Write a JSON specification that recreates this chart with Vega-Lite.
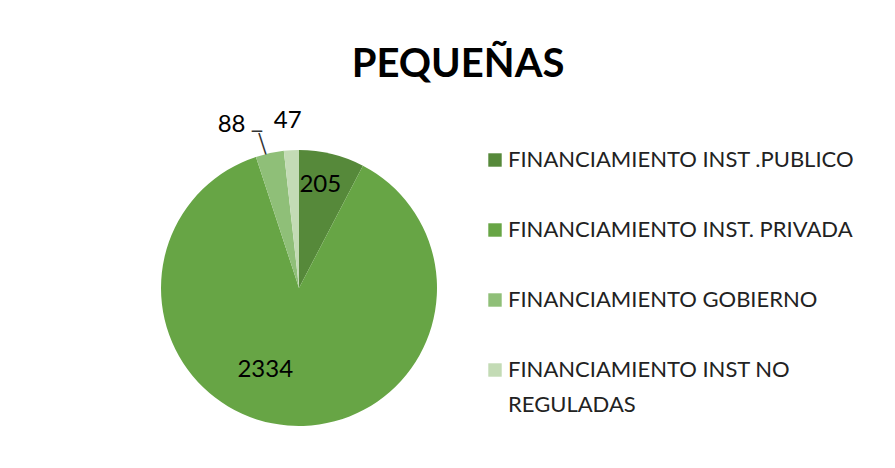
{
  "$schema": "https://vega.github.io/schema/vega-lite/v6.json",
  "autosize": {"type": "none"},
  "width": 276,
  "height": 276,
  "padding": {"left": 161, "top": 150, "right": 458, "bottom": 42},
  "background": "white",
  "title": {"text": "PEQUEÑAS", "font": "Lato", "fontSize": 40, "fontWeight": "bold", "color": "#000000", "anchor": "middle", "dx": 159, "offset": 24},
  "data": {"values": [
    {"categoria": "FINANCIAMIENTO INST .PUBLICO", "valor": 205, "orden": 1},
    {"categoria": "FINANCIAMIENTO INST. PRIVADA", "valor": 2334, "orden": 2},
    {"categoria": "FINANCIAMIENTO GOBIERNO", "valor": 88, "orden": 3},
    {"categoria": "FINANCIAMIENTO INST NO REGULADAS", "valor": 47, "orden": 4}
  ]},
  "encoding": {
    "theta": {"field": "valor", "type": "quantitative", "stack": true},
    "order": {"field": "orden", "type": "quantitative"}
  },
  "layer": [
    {
      "mark": {"type": "arc"},
      "encoding": {
        "color": {
          "field": "categoria", "type": "nominal",
          "scale": {
            "domain": ["FINANCIAMIENTO INST .PUBLICO", "FINANCIAMIENTO INST. PRIVADA", "FINANCIAMIENTO GOBIERNO", "FINANCIAMIENTO INST NO REGULADAS"],
            "range": ["#56893a", "#67a545", "#8fbf78", "#c3dbb5"]
          },
          "legend": {
            "title": null,
            "orient": "none",
            "legendX": 323,
            "legendY": -1,
            "padding": 0,
            "labelFont": "Lato",
            "labelFontSize": 22,
            "labelColor": "#222222",
            "labelLimit": 0,
            "labelOffset": 2,
            "symbolType": "square",
            "symbolSize": 180,
            "symbolStrokeWidth": 0,
            "rowPadding": 48,
            "labelExpr": "datum.label == 'FINANCIAMIENTO INST NO REGULADAS' ? ['FINANCIAMIENTO INST NO', 'REGULADAS'] : datum.label",
            "encode": {
              "labels": {
                "update": {
                  "lineHeight": {"value": 35}
                }
              }
            }
          }
        }
      }
    },
    {
      "mark": {"type": "text", "radius": 106, "dx": -4, "font": "Lato", "fontSize": 24, "color": "#000000"},
      "encoding": {"text": {"condition": {"test": "datum.orden == 1", "field": "valor", "type": "quantitative"}, "value": ""}}
    },
    {
      "mark": {"type": "text", "radius": 82, "dx": -27, "font": "Lato", "fontSize": 24, "color": "#000000"},
      "encoding": {"text": {"condition": {"test": "datum.orden == 2", "field": "valor", "type": "quantitative"}, "value": ""}}
    },
    {
      "mark": {"type": "text", "radius": 167, "dx": -32, "font": "Lato", "fontSize": 24, "color": "#000000"},
      "encoding": {"text": {"condition": {"test": "datum.orden == 3", "field": "valor", "type": "quantitative"}, "value": ""}}
    },
    {
      "mark": {"type": "text", "radius": 167, "dx": -2, "font": "Lato", "fontSize": 24, "color": "#000000"},
      "encoding": {"text": {"condition": {"test": "datum.orden == 4", "field": "valor", "type": "quantitative"}, "value": ""}}
    },
    {
      "mark": {"type": "text", "radius": 139, "dx": -12.7, "dy": -20, "font": "DejaVu Sans Mono", "fontSize": 17, "color": "#333333", "align": "center", "baseline": "middle"},
      "encoding": {"text": {"condition": {"test": "datum.orden == 3", "value": "─"}, "value": ""}}
    },
    {
      "mark": {"type": "text", "radius": 139, "dx": -4.2, "dy": -9.6, "angle": -18, "font": "DejaVu Sans Mono", "fontSize": 19, "color": "#333333", "align": "center", "baseline": "middle"},
      "encoding": {"text": {"condition": {"test": "datum.orden == 3", "value": "│"}, "value": ""}}
    }
  ],
  "config": {"view": {"stroke": null}}
}
